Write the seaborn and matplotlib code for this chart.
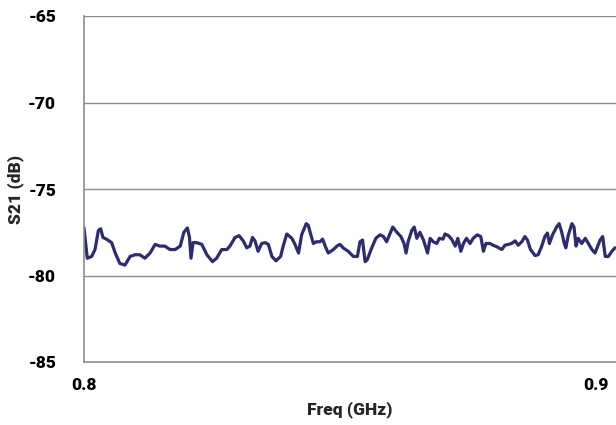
import matplotlib
matplotlib.use("Agg")
import matplotlib.pyplot as plt
import seaborn as sns
import pandas as pd

# frecuencia (GHz) y S21 (dB)
freq = [0.8000, 0.80064, 0.8015, 0.80215, 0.8028, 0.80326, 0.8037, 0.8044, 0.8054, 0.8061,
        0.8070, 0.8080, 0.8090, 0.8100, 0.8109, 0.8119, 0.8129, 0.8139, 0.8148, 0.8158,
        0.8168, 0.8178, 0.8188, 0.8195, 0.8202, 0.8206, 0.8209, 0.8213, 0.8220, 0.8230,
        0.8240, 0.8251, 0.8259, 0.8269, 0.8279, 0.8285, 0.8295, 0.8303, 0.8311, 0.8318,
        0.8324, 0.8329, 0.8334, 0.8340, 0.8347, 0.8354, 0.8360, 0.8367, 0.8375, 0.8384,
        0.8389, 0.8396, 0.8406, 0.8412, 0.8419, 0.8425, 0.8434, 0.8438, 0.8443, 0.8448,
        0.8454, 0.8461, 0.8466, 0.8471, 0.8477, 0.8487, 0.8494, 0.8500, 0.8506, 0.8516,
        0.8526, 0.8534, 0.8539, 0.8544, 0.8549, 0.8553, 0.8562, 0.8570, 0.8578, 0.8585,
        0.8591, 0.8598, 0.8603, 0.8611, 0.8619, 0.8625, 0.8629, 0.8633, 0.8640, 0.8645,
        0.8650, 0.8656, 0.8663, 0.8671, 0.8676, 0.8682, 0.8689, 0.8694, 0.8701, 0.8705,
        0.8712, 0.8718, 0.8725, 0.8730, 0.8736, 0.8741, 0.8747, 0.8754, 0.8760, 0.8768,
        0.8775, 0.8780, 0.8785, 0.8793, 0.8799, 0.8807, 0.8816, 0.8822, 0.8829, 0.8835,
        0.8842, 0.8848, 0.8855, 0.8861, 0.8866, 0.8872, 0.8881, 0.8887, 0.8894, 0.8900,
        0.8905, 0.8909, 0.8915, 0.8923, 0.8928, 0.8933, 0.8938, 0.8941, 0.8946, 0.8953,
        0.8957, 0.8961, 0.8965, 0.8972, 0.8979, 0.8985, 0.8992, 0.8998, 0.9008, 0.9013,
        0.9018, 0.9024, 0.9031, 0.9037]
s21 = [-77.25, -79.0, -78.9, -78.5, -77.4, -77.3, -77.8, -77.9, -78.1, -78.7,
       -79.3, -79.4, -78.9, -78.8, -78.8, -79.0, -78.7, -78.2, -78.3, -78.3,
       -78.5, -78.5, -78.3, -77.5, -77.25, -77.8, -79.0, -78.1, -78.1, -78.2,
       -78.8, -79.2, -79.0, -78.5, -78.5, -78.3, -77.8, -77.7, -78.0, -78.4,
       -78.3, -77.8, -78.0, -78.6, -78.15, -78.1, -78.2, -78.9, -79.15, -78.9,
       -78.3, -77.6, -77.85, -78.2, -78.7, -77.65, -77.0, -77.1, -77.65, -78.15,
       -78.05, -78.05, -77.9, -78.3, -78.7, -78.5, -78.3, -78.2, -78.4, -78.6,
       -78.9, -78.9, -78.05, -77.95, -79.2, -79.1, -78.4, -77.85, -77.65, -77.75,
       -78.05, -77.55, -77.2, -77.5, -77.75, -78.15, -78.7, -78.05, -77.4, -77.2,
       -77.85, -77.5, -77.95, -78.7, -77.85, -78.05, -78.15, -77.85, -77.9, -77.6,
       -77.7, -77.9, -78.3, -77.85, -78.6, -78.15, -77.85, -78.15, -77.85, -77.65,
       -77.75, -78.6, -78.15, -78.15, -78.25, -78.35, -78.5, -78.25, -78.2, -78.15,
       -78.0, -78.25, -78.05, -77.75, -77.95, -78.5, -78.85, -78.8, -78.3, -77.75,
       -77.55, -78.15, -77.65, -77.2, -77.0, -77.5, -78.15, -78.4, -77.65, -77.0,
       -77.2, -78.3, -77.85, -78.15, -77.85, -78.15, -78.5, -78.7, -77.95, -77.75,
       -78.9, -78.9, -78.6, -78.4]

y_ticks = [-85, -80, -75, -70, -65]
x_ticks = [0.8, 0.9]

df = pd.DataFrame({"freq": freq, "s21": s21})

sns.set_style("white")
plt.rcParams["font.family"] = ["Roboto", "DejaVu Sans"]
plt.rcParams["text.color"] = "black"

fig = plt.figure(figsize=(6.16, 4.25), dpi=100)
ax = fig.add_axes([84 / 616, 1 - 362 / 425, 532 / 616, 346 / 425])

for y in y_ticks[1:]:
    ax.axhline(y, color="#8c8c8c", lw=1, zorder=0)

sns.lineplot(data=df, x="freq", y="s21", ax=ax, color="#2e2b72", lw=2.3)

ax.set_xlim(0.8, 0.9039)
ax.set_ylim(-85, -65)
ax.set_yticks(y_ticks)
ax.set_yticklabels([str(v) for v in y_ticks])
ax.set_xticks(x_ticks)
ax.set_xticklabels([str(v) for v in x_ticks])

for side in ["top", "right"]:
    ax.spines[side].set_visible(False)
for side in ["left", "bottom"]:
    ax.spines[side].set_color("#8c8c8c")
    ax.spines[side].set_linewidth(1.2)

ax.tick_params(axis="y", direction="out", length=4, width=1, color="#8c8c8c", pad=16,
               labelsize=12.5, labelcolor="black")
ax.tick_params(axis="x", direction="out", length=4, width=1, color="#8c8c8c", pad=7,
               labelsize=12.5, labelcolor="black")
for lab in ax.get_xticklabels() + ax.get_yticklabels():
    lab.set_fontweight("black")

ax.set_xlabel("Freq (GHz)", fontsize=12.5, fontweight="black", labelpad=6)
ax.set_ylabel("S21 (dB)", fontsize=12.5, fontweight="black")
ax.yaxis.set_label_coords(-0.112, 0.5)

fig.savefig("out.png", dpi=100)
